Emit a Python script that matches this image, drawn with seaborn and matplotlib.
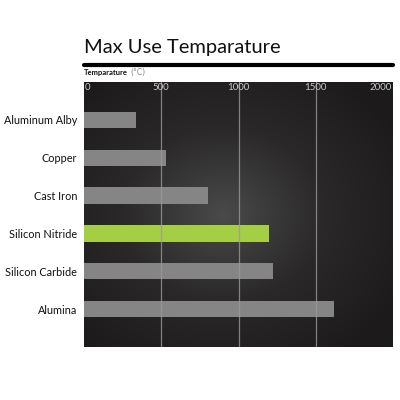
import numpy as np
import pandas as pd
import matplotlib
matplotlib.use("Agg")
import matplotlib.pyplot as plt
import seaborn as sns

# datos
materials = ["Aluminum Alby", "Copper", "Cast Iron", "Silicon Nitride", "Silicon Carbide", "Alumina"]
max_temp = [335, 530, 805, 1200, 1222, 1617]
x_ticks = [0, 500, 1000, 1500, 2000]
highlight = "Silicon Nitride"

df = pd.DataFrame({"material": materials, "temp": max_temp})
palette = {m: ("#a4cf45" if m == highlight else "#858585") for m in materials}

sns.set_style("white")
plt.rcParams["font.family"] = ["Lato", "DejaVu Sans"]

fig = plt.figure(figsize=(4, 4), dpi=100)
ax = fig.add_axes([84 / 400, 1 - 347 / 400, 309 / 400, 265 / 400])

# fondo con degradado radial
yy, xx = np.mgrid[-1:1:200j, -1:1:200j]
rr = np.sqrt(((xx + 0.1) / 1.1) ** 2 + (yy / 1.1) ** 2)
ax.imshow(rr, cmap=sns.blend_palette(["#4a4a4a", "#2a2828", "#1c1a1a"], as_cmap=True),
          extent=[0, 2000, 6.0, -1.0], aspect="auto", zorder=0, vmin=0, vmax=1.2)

sns.barplot(data=df, x="temp", y="material", hue="material", palette=palette,
            width=0.43, legend=False, ax=ax, zorder=3, saturation=1, linewidth=0)

for t in x_ticks[1:-1]:
    ax.axvline(t, color="#9a9a9a", lw=0.9, alpha=0.8, zorder=4)

ax.set_xlim(0, 2000)
ax.set_ylim(6.0, -1.0)
ax.set_xticks([])
ax.set_xlabel("")
ax.set_ylabel("")
ax.tick_params(axis="y", length=0, pad=5, labelsize=7.8, labelcolor="#111111")
for s in ax.spines.values():
    s.set_visible(False)

# etiquetas del eje x dentro del grafico
for t in x_ticks:
    ha = "left" if t == 0 else ("right" if t == 2000 else "center")
    off = 8 if t == 0 else (-8 if t == 2000 else 0)
    ax.text(t + off, -0.85, str(t), ha=ha, va="center", color="#c8c8c8", fontsize=7, zorder=5)

fig.text(84 / 400, 1 - 48 / 400, "Max Use Temparature", fontsize=14.5, color="#111111",
         ha="left", va="center")
fig.add_artist(plt.Line2D([84 / 400, 393 / 400], [1 - 65 / 400] * 2, color="black", lw=3))
lbl = fig.text(84 / 400, 1 - 73 / 400, "Temparature", fontsize=5.5, fontweight="bold",
               color="#111111", ha="left", va="center")
ax.annotate("(\u00b0C)", xy=(1, 0.5), xycoords=lbl, xytext=(2, 0), textcoords="offset points",
            fontsize=5.5, color="#888888", ha="left", va="center",
            family=["DejaVu Sans"], annotation_clip=False)

fig.savefig("out.png", dpi=100, facecolor="white")
